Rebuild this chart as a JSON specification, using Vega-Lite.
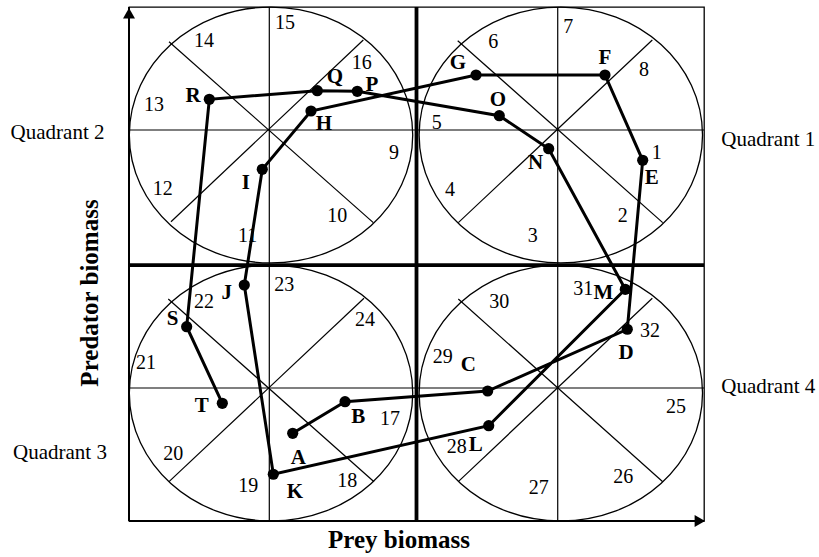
{
  "$schema": "https://vega.github.io/schema/vega-lite/v6.json",
  "width": 575,
  "height": 514,
  "autosize": {"type": "none"},
  "padding": {"left": 129, "top": 7, "right": 115, "bottom": 36},
  "background": "white",
  "config": {
    "view": {"stroke": "black", "strokeWidth": 1.3},
    "font": "Liberation Serif"
  },
  "datasets": {
    "vgrid": [{"x": 2.44}, {"x": 7.456}],
    "hgrid": [{"y": 2.588}, {"y": 7.607}],
    "diag": [
      {"x": 0.696, "y": 9.325, "x2": 4.249, "y2": 5.804},
      {"x": 4.075, "y": 9.358, "x2": 0.730, "y2": 5.823},
      {"x": 5.717, "y": 9.344, "x2": 9.282, "y2": 5.804},
      {"x": 9.101, "y": 9.358, "x2": 5.727, "y2": 5.804},
      {"x": 0.683, "y": 4.319, "x2": 4.261, "y2": 0.765},
      {"x": 4.087, "y": 4.333, "x2": 0.696, "y2": 0.765},
      {"x": 5.727, "y": 4.319, "x2": 9.282, "y2": 0.765},
      {"x": 9.101, "y": 4.333, "x2": 5.727, "y2": 0.765}
    ],
    "circles": [
      {"cx": 2.47, "cy": 7.51},
      {"cx": 7.51, "cy": 7.51},
      {"cx": 2.47, "cy": 2.49},
      {"cx": 7.51, "cy": 2.49}
    ],
    "mid": [{"v": 5.0, "h": 4.98}],
    "axes": [{"x": 0, "y": 0}],
    "arrowUp": [{"x": 0, "y": 9.879}],
    "arrowRight": [{"x": 9.927, "y": 0}],
    "path": [
      {"id": "A", "seq": 1, "x": 2.847, "y": 1.706},
      {"id": "B", "seq": 2, "x": 3.757, "y": 2.321},
      {"id": "C", "seq": 3, "x": 6.238, "y": 2.529},
      {"id": "D", "seq": 4, "x": 8.666, "y": 3.730},
      {"id": "E", "seq": 5, "x": 8.934, "y": 7.018},
      {"id": "F", "seq": 6, "x": 8.278, "y": 8.677},
      {"id": "G", "seq": 7, "x": 6.035, "y": 8.677},
      {"id": "H", "seq": 8, "x": 3.165, "y": 7.977},
      {"id": "I", "seq": 9, "x": 2.318, "y": 6.842},
      {"id": "J", "seq": 10, "x": 2.005, "y": 4.591},
      {"id": "K", "seq": 11, "x": 2.510, "y": 0.909},
      {"id": "L", "seq": 12, "x": 6.256, "y": 1.854},
      {"id": "M", "seq": 13, "x": 8.631, "y": 4.508},
      {"id": "N", "seq": 14, "x": 7.299, "y": 7.243},
      {"id": "O", "seq": 15, "x": 6.440, "y": 7.885},
      {"id": "P", "seq": 16, "x": 3.970, "y": 8.360},
      {"id": "Q", "seq": 17, "x": 3.275, "y": 8.372},
      {"id": "R", "seq": 18, "x": 1.397, "y": 8.204},
      {"id": "S", "seq": 19, "x": 1.003, "y": 3.780},
      {"id": "T", "seq": 20, "x": 1.623, "y": 2.290}
    ],
    "letters": [
      {"t": "A", "x": 2.944, "y": 1.220},
      {"t": "B", "x": 3.988, "y": 2.029},
      {"t": "C", "x": 5.901, "y": 3.035},
      {"t": "D", "x": 8.643, "y": 3.268},
      {"t": "E", "x": 9.090, "y": 6.673},
      {"t": "F", "x": 8.278, "y": 9.008},
      {"t": "G", "x": 5.722, "y": 8.911},
      {"t": "H", "x": 3.391, "y": 7.724},
      {"t": "I", "x": 2.030, "y": 6.582},
      {"t": "J", "x": 1.699, "y": 4.436},
      {"t": "K", "x": 2.887, "y": 0.570},
      {"t": "L", "x": 6.030, "y": 1.479},
      {"t": "M", "x": 8.249, "y": 4.442},
      {"t": "N", "x": 7.073, "y": 6.965},
      {"t": "O", "x": 6.417, "y": 8.191},
      {"t": "P", "x": 4.226, "y": 8.483},
      {"t": "Q", "x": 3.583, "y": 8.638},
      {"t": "R", "x": 1.113, "y": 8.268},
      {"t": "S", "x": 0.760, "y": 3.930},
      {"t": "T", "x": 1.264, "y": 2.237}
    ],
    "numbers": [
      {"t": "1", "x": 9.177, "y": 7.165},
      {"t": "2", "x": 8.586, "y": 5.934},
      {"t": "3", "x": 7.021, "y": 5.551},
      {"t": "4", "x": 5.583, "y": 6.440},
      {"t": "5", "x": 5.351, "y": 7.749},
      {"t": "6", "x": 6.336, "y": 9.325},
      {"t": "7", "x": 7.640, "y": 9.617},
      {"t": "8", "x": 8.957, "y": 8.774},
      {"t": "9", "x": 4.609, "y": 7.165},
      {"t": "10", "x": 3.623, "y": 5.934},
      {"t": "11", "x": 2.064, "y": 5.545},
      {"t": "12", "x": 0.586, "y": 6.453},
      {"t": "13", "x": 0.435, "y": 8.093},
      {"t": "14", "x": 1.304, "y": 9.344},
      {"t": "15", "x": 2.713, "y": 9.683},
      {"t": "16", "x": 4.047, "y": 8.916},
      {"t": "17", "x": 4.539, "y": 1.979},
      {"t": "18", "x": 3.797, "y": 0.784},
      {"t": "19", "x": 2.075, "y": 0.681},
      {"t": "20", "x": 0.770, "y": 1.304},
      {"t": "21", "x": 0.296, "y": 3.080},
      {"t": "22", "x": 1.304, "y": 4.267},
      {"t": "23", "x": 2.701, "y": 4.591},
      {"t": "24", "x": 4.104, "y": 3.911},
      {"t": "25", "x": 9.513, "y": 2.224},
      {"t": "26", "x": 8.597, "y": 0.862},
      {"t": "27", "x": 7.125, "y": 0.648},
      {"t": "28", "x": 5.700, "y": 1.446},
      {"t": "29", "x": 5.456, "y": 3.196},
      {"t": "30", "x": 6.440, "y": 4.267},
      {"t": "31", "x": 7.901, "y": 4.508},
      {"t": "32", "x": 9.061, "y": 3.702}
    ],
    "quadrants": [
      {"t": "Quadrant 1", "x": 11.118, "y": 7.412},
      {"t": "Quadrant 2", "x": -1.243, "y": 7.549},
      {"t": "Quadrant 3", "x": -1.2, "y": 1.317},
      {"t": "Quadrant 4", "x": 11.118, "y": 2.613}
    ],
    "xtitle": [{"t": "Prey biomass", "x": 4.696, "y": -0.37}],
    "ytitle": [{"t": "Predator biomass", "x": -0.678, "y": 4.436}]
  },
  "layer": [
    {
      "data": {"name": "vgrid"},
      "mark": {"type": "rule", "color": "black", "strokeWidth": 1.2},
      "encoding": {
        "x": {"field": "x", "type": "quantitative", "scale": {"domain": [0, 10], "nice": false, "zero": false}, "axis": null}
      }
    },
    {
      "data": {"name": "hgrid"},
      "mark": {"type": "rule", "color": "black", "strokeWidth": 1.2},
      "encoding": {
        "y": {"field": "y", "type": "quantitative", "scale": {"domain": [0, 10], "nice": false, "zero": false}, "axis": null}
      }
    },
    {
      "data": {"name": "diag"},
      "mark": {"type": "rule", "color": "black", "strokeWidth": 1.2},
      "encoding": {
        "x": {"field": "x", "type": "quantitative"},
        "y": {"field": "y", "type": "quantitative"},
        "x2": {"field": "x2"},
        "y2": {"field": "y2"}
      }
    },
    {
      "data": {"name": "circles"},
      "mark": {
        "type": "point",
        "shape": "M -1 0 C -1 -0.4987 -0.5523 -0.903 0 -0.903 C 0.5523 -0.903 1 -0.4987 1 0 C 1 0.4987 0.5523 0.903 0 0.903 C -0.5523 0.903 -1 0.4987 -1 0 Z",
        "size": 80316,
        "filled": false,
        "color": "black",
        "strokeWidth": 1.3,
        "opacity": 1
      },
      "encoding": {
        "x": {"field": "cx", "type": "quantitative"},
        "y": {"field": "cy", "type": "quantitative"}
      }
    },
    {
      "data": {"name": "mid"},
      "mark": {"type": "rule", "color": "black", "strokeWidth": 3.8},
      "encoding": {
        "x": {"field": "v", "type": "quantitative"}
      }
    },
    {
      "data": {"name": "mid"},
      "mark": {"type": "rule", "color": "black", "strokeWidth": 3.8},
      "encoding": {
        "y": {"field": "h", "type": "quantitative"}
      }
    },
    {
      "data": {"name": "axes"},
      "mark": {"type": "rule", "color": "black", "strokeWidth": 2},
      "encoding": {
        "x": {"field": "x", "type": "quantitative"}
      }
    },
    {
      "data": {"name": "axes"},
      "mark": {"type": "rule", "color": "black", "strokeWidth": 2},
      "encoding": {
        "y": {"field": "y", "type": "quantitative"}
      }
    },
    {
      "data": {"name": "arrowUp"},
      "mark": {"type": "point", "shape": "triangle-up", "size": 144, "filled": true, "color": "black", "opacity": 1, "clip": false},
      "encoding": {
        "x": {"field": "x", "type": "quantitative"},
        "y": {"field": "y", "type": "quantitative"}
      }
    },
    {
      "data": {"name": "arrowRight"},
      "mark": {"type": "point", "shape": "triangle-right", "size": 144, "filled": true, "color": "black", "opacity": 1, "clip": false},
      "encoding": {
        "x": {"field": "x", "type": "quantitative"},
        "y": {"field": "y", "type": "quantitative"}
      }
    },
    {
      "data": {"name": "path"},
      "mark": {"type": "line", "color": "black", "strokeWidth": 3},
      "encoding": {
        "x": {"field": "x", "type": "quantitative"},
        "y": {"field": "y", "type": "quantitative"},
        "order": {"field": "seq", "type": "quantitative"}
      }
    },
    {
      "data": {"name": "path"},
      "mark": {"type": "point", "filled": true, "color": "black", "size": 125, "opacity": 1},
      "encoding": {
        "x": {"field": "x", "type": "quantitative"},
        "y": {"field": "y", "type": "quantitative"}
      }
    },
    {
      "data": {"name": "letters"},
      "mark": {"type": "text", "font": "Liberation Serif", "fontWeight": "bold", "fontSize": 21, "align": "center", "baseline": "middle", "color": "black"},
      "encoding": {
        "x": {"field": "x", "type": "quantitative"},
        "y": {"field": "y", "type": "quantitative"},
        "text": {"field": "t"}
      }
    },
    {
      "data": {"name": "numbers"},
      "mark": {"type": "text", "font": "Liberation Serif", "fontSize": 20, "align": "center", "baseline": "middle", "color": "black"},
      "encoding": {
        "x": {"field": "x", "type": "quantitative"},
        "y": {"field": "y", "type": "quantitative"},
        "text": {"field": "t"}
      }
    },
    {
      "data": {"name": "quadrants"},
      "mark": {"type": "text", "font": "Liberation Serif", "fontSize": 21, "align": "center", "baseline": "middle", "color": "black"},
      "encoding": {
        "x": {"field": "x", "type": "quantitative"},
        "y": {"field": "y", "type": "quantitative"},
        "text": {"field": "t"}
      }
    },
    {
      "data": {"name": "xtitle"},
      "mark": {"type": "text", "font": "Liberation Serif", "fontWeight": "bold", "fontSize": 25, "align": "center", "baseline": "middle", "color": "black"},
      "encoding": {
        "x": {"field": "x", "type": "quantitative"},
        "y": {"field": "y", "type": "quantitative"},
        "text": {"field": "t"}
      }
    },
    {
      "data": {"name": "ytitle"},
      "mark": {"type": "text", "font": "Liberation Serif", "fontWeight": "bold", "fontSize": 25, "align": "center", "baseline": "middle", "angle": 270, "color": "black"},
      "encoding": {
        "x": {"field": "x", "type": "quantitative"},
        "y": {"field": "y", "type": "quantitative"},
        "text": {"field": "t"}
      }
    }
  ]
}
